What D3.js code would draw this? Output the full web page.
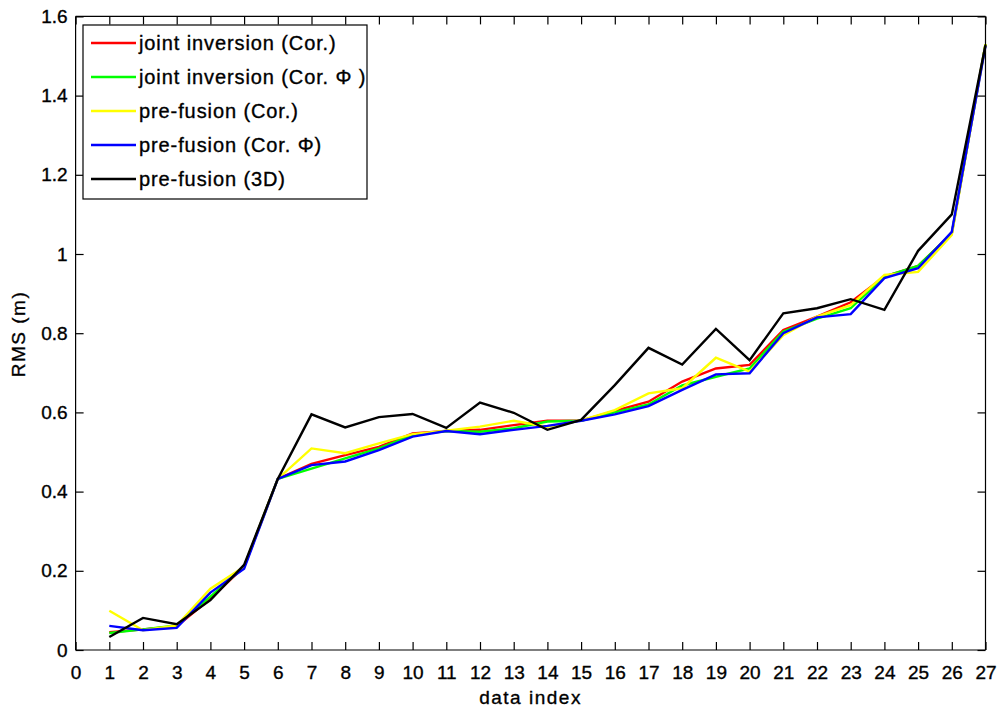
<!DOCTYPE html>
<html>
<head>
<meta charset="utf-8">
<script src="https://cdn.jsdelivr.net/npm/d3@7"></script>
<style>
  html, body { margin: 0; padding: 0; background: #fff; }
  svg { display: block; }
  text { font-family: "Liberation Sans", Arial, Helvetica, sans-serif; fill: #000; stroke: #000; stroke-width: 0.35px; }
</style>
</head>
<body>
<script>
// ---- data ----
const dataIndex = [1,2,3,4,5,6,7,8,9,10,11,12,13,14,15,16,17,18,19,20,21,22,23,24,25,26,27];
const jointCor    = [0.045,0.052,0.060,0.130,0.210,0.432,0.470,0.492,0.513,0.547,0.553,0.556,0.568,0.579,0.579,0.604,0.627,0.678,0.711,0.720,0.808,0.842,0.878,0.943,0.970,1.052,1.530];
const jointCorPhi = [0.043,0.052,0.062,0.135,0.210,0.432,0.458,0.484,0.509,0.543,0.553,0.551,0.560,0.577,0.579,0.600,0.620,0.668,0.690,0.711,0.804,0.837,0.863,0.943,0.970,1.052,1.530];
const preCor      = [0.099,0.050,0.062,0.155,0.210,0.432,0.509,0.497,0.522,0.545,0.554,0.564,0.579,0.564,0.580,0.606,0.648,0.661,0.738,0.703,0.795,0.842,0.871,0.947,0.955,1.048,1.530];
const preCorPhi   = [0.061,0.050,0.056,0.145,0.205,0.432,0.467,0.476,0.505,0.539,0.553,0.545,0.556,0.566,0.579,0.595,0.616,0.657,0.696,0.699,0.800,0.840,0.848,0.939,0.964,1.056,1.525];
const pre3D       = [0.033,0.081,0.065,0.126,0.215,0.432,0.595,0.562,0.588,0.596,0.561,0.625,0.599,0.556,0.581,0.669,0.763,0.721,0.811,0.732,0.850,0.863,0.886,0.859,1.008,1.100,1.528];
const seriesNames  = ["joint inversion (Cor.)", "joint inversion (Cor. \u03A6 )", "pre-fusion (Cor.)", "pre-fusion (Cor. \u03A6)", "pre-fusion (3D)"];
const seriesColors = ["#ff0000", "#00ff00", "#ffff00", "#0000ff", "#000000"];
const xTicks = d3.range(0, 28);
const yTicks = [0, 0.2, 0.4, 0.6, 0.8, 1, 1.2, 1.4, 1.6];
const xLabel = "data index";
const yLabel = "RMS (m)";

const allSeries = [jointCor, jointCorPhi, preCor, preCorPhi, pre3D];

// ---- layout ----
const W = 999, H = 708;
const pLeft = 75.6, pRight = 985.5, pTop = 16.4, pBottom = 650;

const svg = d3.select("body").append("svg").attr("width", W).attr("height", H);

const x = d3.scaleLinear().domain([0, 27]).range([pLeft, pRight]);
const y = d3.scaleLinear().domain([0, 1.6]).range([pBottom, pTop]);

const tickLen = 8;

// lines
const line = d3.line().x((d, i) => x(dataIndex[i])).y(d => y(d));
allSeries.forEach((s, k) => {
  svg.append("path")
    .datum(s)
    .attr("d", line)
    .attr("fill", "none")
    .attr("stroke", seriesColors[k])
    .attr("stroke-width", 2.4)
    .attr("stroke-linejoin", "miter");
});

// axes (MATLAB-style box with inward ticks)
const fmtY = d => String(+d.toFixed(1));
const axB = d3.axisBottom(x).tickValues(xTicks).tickSize(-tickLen).tickPadding(16).tickFormat(d3.format("d"));
const axT = d3.axisTop(x).tickValues(xTicks).tickSize(-tickLen).tickFormat("");
const axL = d3.axisLeft(y).tickValues(yTicks).tickSize(-tickLen).tickPadding(8).tickFormat(fmtY);
const axR = d3.axisRight(y).tickValues(yTicks).tickSize(-tickLen).tickFormat("");

function style(g) {
  g.selectAll("path.domain").attr("stroke", "#000").attr("stroke-width", 1.2);
  g.selectAll(".tick line").attr("stroke", "#000").attr("stroke-width", 1.2);
  g.selectAll(".tick text").attr("font-size", 19).attr("font-family", "Liberation Sans, Arial, sans-serif").attr("fill", "#000");
}
svg.append("g").attr("transform", `translate(0,${pBottom})`).call(axB).call(style)
  .call(g => g.select("path.domain").attr("d", `M${pLeft},0H${pRight}`));
svg.append("g").attr("transform", `translate(0,${pTop})`).call(axT).call(style)
  .call(g => g.select("path.domain").attr("d", `M${pLeft},0H${pRight}`));
svg.append("g").attr("transform", `translate(${pLeft},0)`).call(axL).call(style)
  .call(g => g.select("path.domain").attr("d", `M0,${pBottom}V${pTop}`));
svg.append("g").attr("transform", `translate(${pRight},0)`).call(axR).call(style)
  .call(g => g.select("path.domain").attr("d", `M0,${pBottom}V${pTop}`));

// axis labels
svg.append("text")
  .attr("x", (pLeft + pRight) / 2).attr("y", 704)
  .attr("text-anchor", "middle").attr("font-size", 19).attr("letter-spacing", 1.5)
  .text(xLabel);
svg.append("text")
  .attr("transform", `translate(25,334) rotate(-90)`)
  .attr("text-anchor", "middle").attr("font-size", 19).attr("letter-spacing", 1.5)
  .text(yLabel);

// legend
const lg = svg.append("g");
lg.append("rect").attr("x", 83).attr("y", 25).attr("width", 284).attr("height", 174)
  .attr("fill", "#fff").attr("stroke", "#000").attr("stroke-width", 1.2);
seriesNames.forEach((name, k) => {
  const cy = 43 + k * 34;
  lg.append("line").attr("x1", 91).attr("x2", 136).attr("y1", cy).attr("y2", cy)
    .attr("stroke", seriesColors[k]).attr("stroke-width", 2.4);
  lg.append("text").attr("x", 139).attr("y", cy + 7)
    .attr("font-size", 20).attr("letter-spacing", 0.9)
    .text(name);
});
</script>
</body>
</html>
